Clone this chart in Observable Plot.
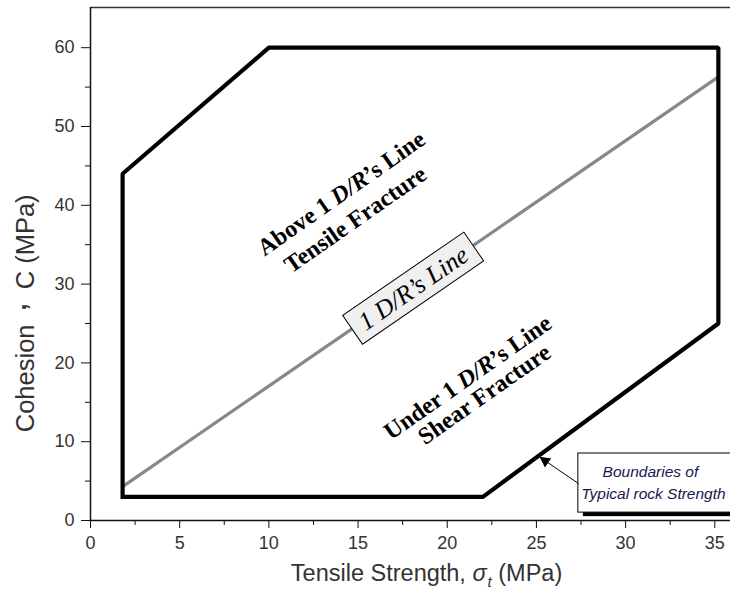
<!DOCTYPE html>
<html>
<head>
<meta charset="utf-8">
<script src="https://cdn.jsdelivr.net/npm/d3@7"></script>
<script src="https://cdn.jsdelivr.net/npm/@observablehq/plot@0.6"></script>
<style>
  html, body { margin: 0; padding: 0; background: #fff; }
  #chart { width: 730px; height: 608px; overflow: hidden; }
</style>
</head>
<body>
<div id="chart"></div>
<script>
// ---------------- data ----------------
const xTicks = [0, 5, 10, 15, 20, 25, 30, 35];
const xMinorTicks = [2.5, 7.5, 12.5, 17.5, 22.5, 27.5, 32.5];
const yTicks = [0, 10, 20, 30, 40, 50, 60];
const yMinorTicks = [5, 15, 25, 35, 45, 55];

// boundaries of typical rock strength (closed polygon)
const boundaryX = [1.8, 1.8, 10, 35.2, 35.2, 22, 1.8];
const boundaryC = [3, 44, 60, 60, 25, 3, 3];

// 1 D/R's line
const drLineX = [1.8, 35.2];
const drLineC = [4.3, 56.3];

// region labels
const regionLabels = ["Above 1 D/R’s Line", "Tensile Fracture", "Under 1 D/R’s Line", "Shear Fracture"];
const regionLabelX = [14.06, 14.85, 21.15, 22.08];
const regionLabelC = [41.5, 38.2, 18.15, 16.0];

const lineLabel = "1 D/R’s Line";
const lineLabelX = 18.1;
const lineLabelC = 29.45;

const calloutLines = ["Boundaries of", "Typical rock Strength"];
const calloutX = [31.39, 31.56];
const calloutC = [5.46, 2.67];
const calloutBoxX = [27.35, 36.6];
const calloutBoxC = [1.0, 8.5];
const arrowFrom = [27.35, 4.7];
const arrowTo = [25.22, 8.0];

const xTitle = "Tensile Strength, σt (MPa)";
const xTitleX = 18.84;
const yTitle = "Cohesion , C (MPa)";
const yTitleC = 11.2;
const frameTopC = 65.1;

// ---------------- chart ----------------
const boundary = boundaryX.map((x, i) => ({x, y: boundaryC[i]}));
const drLine = drLineX.map((x, i) => ({x, y: drLineC[i]}));
const regions = regionLabels.map((t, i) => ({t, x: regionLabelX[i], y: regionLabelC[i]}));
const callout = calloutLines.map((t, i) => ({t, x: calloutX[i], y: calloutC[i]}));

const sans = "'Liberation Sans', Arial, Helvetica, sans-serif";
const serif = "'Liberation Serif', 'Times New Roman', Times, serif";
const hasAxisMarks = typeof Plot.axisX === "function";

const axisMarks = hasAxisMarks ? [
  Plot.axisX(xTicks, {tickSize: 8, tickPadding: 8, fontSize: 18, stroke: "#111", fill: "#333", label: null}),
  Plot.axisX(xMinorTicks, {tickSize: 5, tickFormat: () => "", stroke: "#111", label: null}),
  Plot.axisY(yTicks, {tickSize: 9, tickPadding: 7, fontSize: 18, stroke: "#111", fill: "#333", label: null}),
  Plot.axisY(yMinorTicks, {tickSize: 5, tickFormat: () => "", stroke: "#111", label: null})
] : [];

const plot = Plot.plot({
  width: 730,
  height: 608,
  marginLeft: 90,
  marginRight: 0,
  marginTop: 7,
  marginBottom: 88,
  style: {fontFamily: sans, fontSize: "18px", color: "#333", background: "#fff", overflow: "visible"},
  x: {domain: [0, 35.88], ticks: xTicks, tickSize: 8, tickPadding: 8, label: null},
  y: {domain: [0, frameTopC], ticks: yTicks, tickSize: 9, tickPadding: 7, label: null},
  marks: [
    ...axisMarks,
    // axis frame lines
    Plot.ruleY([frameTopC], {stroke: "#333", strokeWidth: 1.5}),
    Plot.ruleY([0], {stroke: "#111", strokeWidth: 1.5}),
    Plot.ruleX([0], {stroke: "#111", strokeWidth: 1.5}),
    // 1 D/R's line
    Plot.line(drLine, {x: "x", y: "y", stroke: "#888", strokeWidth: 3.2}),
    // boundary polygon
    Plot.line(boundary, {x: "x", y: "y", stroke: "#000", strokeWidth: 4.2, strokeLinejoin: "miter", strokeLinecap: "square"}),
    // region labels
    Plot.text(regions, {x: "x", y: "y", text: "t", rotate: -35, fontFamily: serif, fontWeight: "bold", fontSize: 24, fill: "#000", textAnchor: "middle", lineAnchor: "middle"}),
    // 1 D/R's Line label (box added afterwards)
    Plot.text([lineLabel], {x: lineLabelX, y: lineLabelC, text: d => d, rotate: -34.5, fontFamily: serif, fontStyle: "italic", fontSize: 25.5, fill: "#000", textAnchor: "middle", lineAnchor: "middle"}),
    // callout box
    Plot.rect([0], {x1: calloutBoxX[0], x2: calloutBoxX[1], y1: calloutBoxC[0], y2: calloutBoxC[1], fill: "#000", dx: 5, dy: 4}),
    Plot.rect([0], {x1: calloutBoxX[0], x2: calloutBoxX[1], y1: calloutBoxC[0], y2: calloutBoxC[1], fill: "#fff", stroke: "#000", strokeWidth: 1}),
    Plot.text(callout, {x: "x", y: "y", text: "t", fontFamily: sans, fontStyle: "italic", fontSize: 15.5, fill: "#15194f", textAnchor: "middle", lineAnchor: "bottom"}),
    Plot.arrow([0], {x1: arrowFrom[0], y1: arrowFrom[1], x2: arrowTo[0], y2: arrowTo[1], stroke: "#000", strokeWidth: 1, headLength: 10, headAngle: 50}),
    Plot.dot([0], {x: 25.5, y: 7.55, symbol: "triangle", r: 4.2, fill: "#000", stroke: "none", rotate: -56}),
    // axis titles
    Plot.text([xTitle], {x: xTitleX, text: d => d, frameAnchor: "bottom", dy: 60, fontFamily: sans, fontSize: 23.5, fill: "#333", textAnchor: "middle", lineAnchor: "bottom"}),
    Plot.text([yTitle], {y: yTitleC, text: d => d, frameAnchor: "left", dx: -57, rotate: -90, fontFamily: sans, fontSize: 25.5, fill: "#333", textAnchor: "start", lineAnchor: "bottom"})
  ]
});

document.getElementById("chart").append(plot);

// ---------------- rich text post-processing ----------------
const NS = "http://www.w3.org/2000/svg";
function rich(el, parts) {
  el.textContent = "";
  for (const [t, attrs] of parts) {
    const ts = document.createElementNS(NS, "tspan");
    ts.textContent = t;
    for (const k in (attrs || {})) ts.setAttribute(k, attrs[k]);
    el.appendChild(ts);
  }
}
const texts = Array.from(plot.querySelectorAll("text"));
for (const el of texts) {
  const s = el.textContent;
  if (regionLabels.includes(s) && s.includes("D/R")) {
    const [a, b] = s.split("D/R");
    rich(el, [[a], ["D/R", {"font-style": "italic"}], [b]]);
  } else if (s === xTitle) {
    rich(el, [["Tensile Strength, "], ["σ", {"font-style": "italic"}], ["t", {"font-style": "italic", "font-size": "15", "dy": "6", "dx": "1"}], [" (MPa)", {"dy": "-6"}]]);
  } else if (s === yTitle) {
    rich(el, [["Cohesion"], [",", {"font-weight": "bold", "dx": "14", "dy": "-8"}], [" C (MPa)", {"dx": "7", "dy": "8"}]]);
  } else if (s === lineLabel) {
    const bb = el.getBBox();
    const padX = 10, padY = 3;
    const r = document.createElementNS(NS, "rect");
    r.setAttribute("x", bb.x - padX);
    r.setAttribute("y", bb.y - padY);
    r.setAttribute("width", bb.width + 2 * padX);
    r.setAttribute("height", bb.height + 2 * padY);
    r.setAttribute("fill", "#f0f0f0");
    r.setAttribute("stroke", "#000");
    r.setAttribute("stroke-width", "1");
    const tr = el.getAttribute("transform");
    if (tr) r.setAttribute("transform", tr);
    el.parentNode.insertBefore(r, el);
  }
}
</script>
</body>
</html>
